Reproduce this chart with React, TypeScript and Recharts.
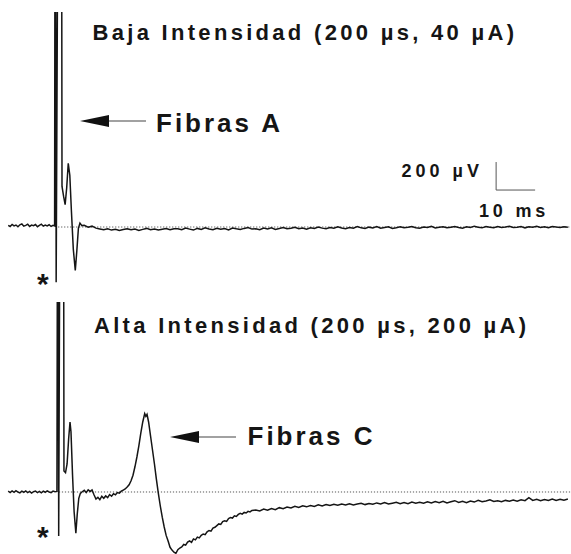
import React from "react";
import { LineChart, Line, XAxis, YAxis, ReferenceLine } from "recharts";

// time in ms (stimulus at 0), voltage in µV relative to baseline
const topPre: [number, number][] = [
  [-12.5, 12], [-12, 4], [-11.5, 18], [-11, 8], [-10.5, 14], [-10, 2], [-9.5, 16], [-9, 22], [-8.5, 6], [-8, 12],
  [-7.5, 20], [-7, 4], [-6.5, 14], [-6, 10], [-5.5, 18], [-5, 2], [-4.5, 12], [-4, 20], [-3.5, 6], [-3, 14],
  [-2.5, 8], [-2, 16], [-1.5, 4], [-1, 12], [-0.6, 8],
];
const topSpike: [number, number][] = [
  [-0.5, 2400], [-0.35, 2400], [-0.2, -395], [0.25, 2400], [1.2, 2400], [1.3, 290], [1.7, 220], [2.1, 160],
  [2.5, 280], [2.9, 455], [3.3, 370], [3.7, 120], [4.2, -160], [4.7, -310], [5.1, -170], [5.5, -10], [5.9, 28], [6.4, 10],
];
const topTail: [number, number][] = [
  [7, 12], [8, -2], [9, 6], [10, -8], [11, -14], [12, -20], [13, -12], [14, -22], [15, -16], [16, -25],
  [17, -18], [18, -12], [19, -20], [20, -15], [21, -24], [22, -17], [23, -10], [24, -19], [25, -14], [26, -22],
  [27, -16], [28, -11], [29, -20], [30, -13], [31, -12], [32, -20], [33, -8], [34, -15], [35, -22], [36, -10],
  [37, -17], [38, -6], [39, -14], [40, -19], [41, -9], [42, -16], [43, -11], [44, -21], [45, -7], [46, -13],
  [47, -18], [48, -10], [49, -4], [50, -15], [51, -12], [52, -20], [53, -8], [54, -14], [55, -6], [56, -17],
  [57, -11], [58, -3], [59, -13], [60, -9], [61, -2], [62, -12], [63, -7], [64, -15], [65, -5], [66, -10],
  [67, 0], [68, -8], [69, -13], [70, -4], [71, -9], [72, 2], [73, -7], [74, -12], [75, -3], [76, -8],
  [77, 4], [78, -6], [79, -11], [80, -1], [81, -7], [82, 3], [83, -9], [84, -4], [85, 1], [86, -10],
  [87, -5], [88, 2], [89, -6], [90, -2], [91, 3], [92, -5], [93, -9], [94, 0], [95, -4], [96, 5],
  [97, -7], [98, -2], [99, 2], [100, -6], [101, -1], [102, 4], [103, -3], [104, -8], [105, 1], [106, -4],
  [107, 6], [108, -2], [109, -6], [110, 3], [111, -1], [112, -5], [113, 4], [114, -3], [115, 0], [116, 5],
  [117, -4], [118, -1], [119, 3], [120, -6], [121, 2], [122, -2], [123, 5], [124, -3], [125, 1], [126, -5],
  [127, 4], [128, 0], [129, -3], [130, 2], [131, -1],
];

const botPre: [number, number][] = [
  [-12.5, 6], [-12, -4], [-11.5, 8], [-11, -2], [-10.5, 10], [-10, 0], [-9.5, -6], [-9, 6], [-8.5, -2], [-8, 8],
  [-7.5, -4], [-7, 4], [-6.5, -8], [-6, 2], [-5.5, 6], [-5, -4], [-4.5, 4], [-4, -6], [-3.5, 6], [-3, -2],
  [-2.5, 8], [-2, 0], [-1.5, -4], [-1, 6], [-0.5, 2], [0, 4],
];
const botSpike: [number, number][] = [
  [0.15, 2400], [0.3, 2400], [0.45, -315], [0.8, 2400], [1.7, 2400], [1.8, 150], [2.2, 138], [2.6, 200],
  [3.0, 380], [3.35, 500], [3.6, 430], [4.0, 120], [4.4, -140], [4.85, -295], [5.2, -160], [5.6, -45],
  [6.0, -10], [6.4, 0], [7.0, 12], [7.5, -4], [8.0, 16], [8.5, 4], [9.0, 14],
];
const botCWave: [number, number][] = [
  [9.5, -20], [10, -50], [10.5, -38], [11, -55], [11.5, -30], [12, -45], [12.5, -28], [13, -40], [13.5, -18], [14, -30],
  [14.5, -12], [15, -20], [15.5, -4], [16, -8], [16.5, 6], [17, 14], [17.5, 22], [18, 36], [18.5, 52], [19, 80],
  [19.5, 120], [20, 180], [20.5, 250], [21, 330], [21.5, 420], [22, 500], [22.5, 560], [22.8, 540], [23.1, 555], [23.5, 500],
  [24, 400], [24.5, 300], [25, 200], [25.5, 90], [26, -10], [26.5, -100], [27, -180], [27.5, -250], [28, -310], [28.5, -350],
  [29, -395], [29.5, -415], [30, -430], [30.5, -438], [31, -412], [31.5, -400], [32, -392], [32.5, -375], [33, -380], [33.5, -358],
  [34, -350], [34.5, -360], [35, -335], [35.5, -342], [36, -322], [36.5, -328], [37, -310], [37.5, -300], [38, -305], [38.5, -285],
  [39, -275], [39.5, -280], [40, -258], [40.5, -252], [41, -240], [41.5, -228], [42, -232], [42.5, -212], [43, -205], [43.5, -210],
  [44, -190], [44.5, -182], [45, -186], [45.5, -170], [46, -175], [46.5, -160], [47, -152], [47.5, -158], [48, -146], [48.5, -150],
  [49, -138], [49.5, -142], [50, -132],
];
const botTail: [number, number][] = [
  [51, -128], [52, -136], [53, -122], [54, -130], [55, -118], [56, -126], [57, -112], [58, -120], [59, -108], [60, -114],
  [61, -102], [62, -110], [63, -98], [64, -106], [65, -96], [66, -104], [67, -92], [68, -100], [69, -90], [70, -97],
  [71, -88], [72, -95], [73, -86], [74, -93], [75, -84], [76, -92], [77, -86], [78, -80], [79, -90], [80, -82],
  [81, -88], [82, -78], [83, -86], [84, -76], [85, -86], [86, -80], [87, -74], [88, -84], [89, -76], [90, -84],
  [91, -72], [92, -80], [93, -74], [94, -80], [95, -70], [96, -78], [97, -68], [98, -76], [99, -66], [100, -78],
  [101, -70], [102, -62], [103, -74], [104, -66], [105, -76], [106, -64], [107, -72], [108, -60], [109, -70], [110, -64],
  [111, -56], [112, -68], [113, -62], [114, -70], [115, -60], [116, -66], [117, -58], [118, -66], [119, -56], [120, -62],
  [121, -40], [122, -60], [123, -52], [124, -62], [125, -54], [126, -60], [127, -50], [128, -60], [129, -52], [130, -58],
  [131, -50],
];

// scale bar: 10 ms x 200 µV
const scaleT = [112.6, 122.6];
const scaleV = [264, 464];

const titles = ["Baja Intensidad (200 µs, 40 µA)", "Alta Intensidad (200 µs, 200 µA)"];
const fiberLabels = ["Fibras A", "Fibras C"];
const scaleLabels = ["200 µV", "10 ms"];

const toRows = (...parts: [number, number][][]) =>
  parts.flat().map(([t, v]) => ({ t, v }));

const topData = toRows(topPre, topSpike, topTail);
const botData = toRows(botPre, botSpike, botCWave, botTail);

const W = 571;
const X_DOMAIN: [number, number] = [-14.6, 131.8];
const FONT = "'Liberation Sans', Arial, Helvetica, sans-serif";
const INK = "#151515";

const Arrow = ({ tip, end, y }: { tip: number; end: number; y: number }) => (
  <g>
    <line x1={tip + 25} y1={y} x2={end} y2={y} stroke="#444" strokeWidth={1.2} />
    <path d={`M${tip},${y} L${tip + 29},${y - 6} L${tip + 29},${y + 6} Z`} fill="#111" />
  </g>
);

export default function App() {
  return (
    <div style={{ position: "absolute", left: 0, top: 0, width: W, height: 554, background: "#fff" }}>
      <div style={{ position: "absolute", left: 0, top: 0 }}>
        <LineChart width={W} height={305} data={topData} margin={{ top: 12, right: 0, bottom: 0, left: 0 }}>
          <XAxis dataKey="t" type="number" domain={X_DOMAIN} allowDataOverflow hide />
          <YAxis type="number" domain={[-557.1, 1535.7]} allowDataOverflow hide />
          <ReferenceLine
            segment={[{ x: 0.3, y: 0 }, { x: 131.8, y: 0 }]}
            stroke="#444"
            strokeWidth={0.9}
            strokeDasharray="1.2 1.8"
          />
          <ReferenceLine segment={[{ x: scaleT[0], y: scaleV[0] }, { x: scaleT[0], y: scaleV[1] }]} stroke="#555" strokeWidth={1} />
          <ReferenceLine segment={[{ x: scaleT[0], y: scaleV[0] }, { x: scaleT[1], y: scaleV[0] }]} stroke="#555" strokeWidth={1} />
          <Line dataKey="v" type="linear" stroke={INK} strokeWidth={1.5} dot={false} isAnimationActive={false} />
          <g fontFamily={FONT} fontWeight="bold" fill={INK}>
            <text x={92.5} y={40} fontSize={22} style={{ letterSpacing: "3.3px" }}>{titles[0]}</text>
            <text x={156} y={132} fontSize={26} style={{ letterSpacing: "3px" }}>{fiberLabels[0]}</text>
            <text x={401.5} y={177} fontSize={18} style={{ letterSpacing: "4px" }}>{scaleLabels[0]}</text>
            <text x={479} y={217} fontSize={18} style={{ letterSpacing: "3.8px" }}>{scaleLabels[1]}</text>
            <text x={37} y={294} fontSize={30}>*</text>
          </g>
          <Arrow tip={80} end={146} y={121} />
        </LineChart>
      </div>
      <div style={{ position: "absolute", left: 0, top: 290 }}>
        <LineChart width={W} height={264} data={botData} margin={{ top: 12, right: 0, bottom: 0, left: 0 }}>
          <XAxis dataKey="t" type="number" domain={X_DOMAIN} allowDataOverflow hide />
          <YAxis type="number" domain={[-442.9, 1357.1]} allowDataOverflow hide />
          <ReferenceLine
            segment={[{ x: 0.5, y: 0 }, { x: 131.8, y: 0 }]}
            stroke="#444"
            strokeWidth={0.9}
            strokeDasharray="1.2 1.8"
          />
          <Line dataKey="v" type="linear" stroke={INK} strokeWidth={1.5} dot={false} isAnimationActive={false} />
          <g fontFamily={FONT} fontWeight="bold" fill={INK}>
            <text x={94} y={43} fontSize={22} style={{ letterSpacing: "3.3px" }}>{titles[1]}</text>
            <text x={247.5} y={155} fontSize={26} style={{ letterSpacing: "3px" }}>{fiberLabels[1]}</text>
            <text x={37} y={257} fontSize={30}>*</text>
          </g>
          <Arrow tip={170} end={236} y={147} />
        </LineChart>
      </div>
    </div>
  );
}
